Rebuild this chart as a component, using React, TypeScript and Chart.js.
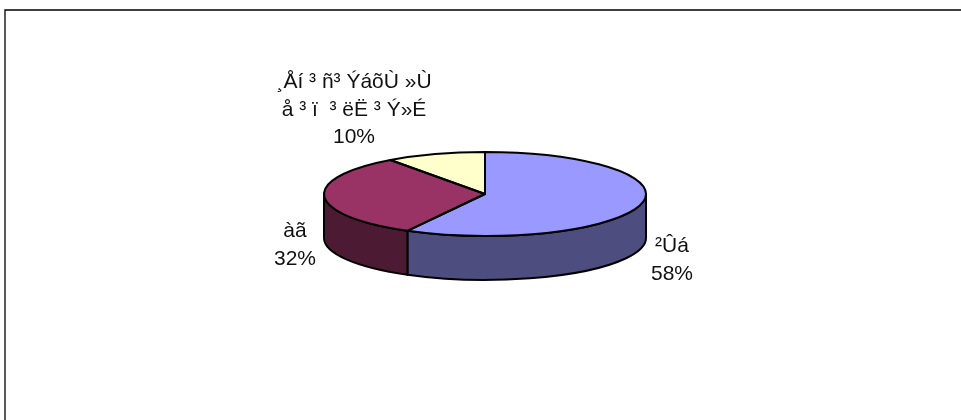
import React, { useEffect, useRef } from "react";
import { Chart, registerables } from "chart.js";

Chart.register(...registerables);

const categories = ["²Ûá", "àã", "¸Åí ³ ñ³ ÝáõÙ »Ù|å ³ ï  ³ ëË ³ Ý»É"];
const values = [58, 32, 10];
const topColors = ["#9999FF", "#993366", "#FFFFCC"];
const wallColors = ["#4D4D80", "#4D1A33", "#808066"];

const labelAnchors = [
  { x: 672, y: 252 },
  { x: 295, y: 237 },
  { x: 354, y: 88 },
];

const CX = 485;
const CY = 194;
const RX = 161;
const RY = 42;
const DEPTH = 44;
const FONT = '21px "Liberation Sans", Arial, sans-serif';
const LINE_GAP = 27.5;
const EDGE = 2;

const pie3d = {
  id: "pie3d",
  beforeDraw(chart: any) {
    const { ctx } = chart;
    ctx.save();
    ctx.fillStyle = "#FFFFFF";
    ctx.fillRect(0, 0, chart.width, chart.height);
    ctx.strokeStyle = "#000000";
    ctx.lineWidth = 1.3;
    ctx.beginPath();
    ctx.moveTo(961, 10);
    ctx.lineTo(5, 10);
    ctx.lineTo(5, 420);
    ctx.stroke();
    ctx.restore();
  },
  beforeDatasetsDraw(chart: any) {
    const { ctx } = chart;
    const arcs = chart.getDatasetMeta(0).data;
    ctx.save();
    ctx.lineWidth = EDGE;
    ctx.strokeStyle = "#000000";
    ctx.lineJoin = "round";
    arcs.forEach((arc: any, i: number) => {
      const p = arc.getProps(["x", "y", "startAngle", "endAngle", "outerRadius"], true);
      const a0 = Math.max(p.startAngle, 0);
      const a1 = Math.min(p.endAngle, Math.PI);
      if (a1 <= a0) return;
      const ry = p.outerRadius * (RY / RX);
      ctx.beginPath();
      ctx.ellipse(p.x, p.y, p.outerRadius, ry, 0, a0, a1);
      ctx.ellipse(p.x, p.y + DEPTH, p.outerRadius, ry, 0, a1, a0, true);
      ctx.closePath();
      ctx.fillStyle = wallColors[i];
      ctx.fill();
      ctx.stroke();
    });
    ctx.restore();
    ctx.save();
    ctx.translate(CX, CY);
    ctx.scale(1, RY / RX);
    ctx.translate(-CX, -CY);
  },
  afterDatasetsDraw(chart: any) {
    const { ctx } = chart;
    ctx.restore();
    const arcs = chart.getDatasetMeta(0).data;
    ctx.save();
    ctx.lineWidth = EDGE;
    ctx.strokeStyle = "#000000";
    ctx.lineJoin = "round";
    arcs.forEach((arc: any) => {
      const p = arc.getProps(["x", "y", "startAngle", "endAngle", "outerRadius"], true);
      ctx.beginPath();
      ctx.moveTo(p.x, p.y);
      ctx.ellipse(p.x, p.y, p.outerRadius, p.outerRadius * (RY / RX), 0, p.startAngle, p.endAngle);
      ctx.closePath();
      ctx.stroke();
    });
    ctx.fillStyle = "#111111";
    ctx.font = FONT;
    ctx.textAlign = "center";
    ctx.textBaseline = "alphabetic";
    categories.forEach((name, i) => {
      const lines = [...name.split("|"), `${values[i]}%`];
      lines.forEach((line, j) => {
        ctx.fillText(line, labelAnchors[i].x, labelAnchors[i].y + j * LINE_GAP);
      });
    });
    ctx.restore();
  },
};

export default function App() {
  const ref = useRef<HTMLCanvasElement>(null);
  useEffect(() => {
    const chart = new Chart(ref.current as HTMLCanvasElement, {
      type: "pie",
      data: {
        labels: categories,
        datasets: [
          {
            data: values,
            backgroundColor: topColors,
            borderWidth: 0,
            clip: false,
          } as any,
        ],
      },
      options: {
        animation: false,
        responsive: false,
        layout: {
          padding: {
            left: CX - RX,
            right: 961 - CX - RX,
            top: CY - RX,
            bottom: 420 - CY - RX,
          },
        },
        plugins: { legend: { display: false }, tooltip: { enabled: false } },
      },
      plugins: [pie3d],
    });
    return () => chart.destroy();
  }, []);
  return (
    <div style={{ position: "fixed", left: 0, top: 0, width: 961, height: 420 }}>
      <canvas ref={ref} width={961} height={420} style={{ display: "block" }} />
    </div>
  );
}
